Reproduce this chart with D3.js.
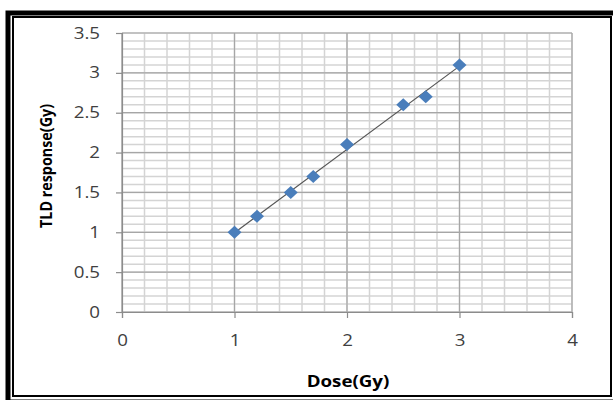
<!DOCTYPE html>
<html>
<head>
<meta charset="utf-8">
<script src="https://cdn.jsdelivr.net/npm/d3@7"></script>
<style>
  body { margin: 0; background: #fff; }
  svg { display: block; font-family: "Open Sans", sans-serif; }
</style>
</head>
<body>
<div id="chart"></div>
<script>
// values
const dose = [1, 1.2, 1.5, 1.7, 2, 2.5, 2.7, 3];
const response = [1, 1.2, 1.5, 1.7, 2.1, 2.6, 2.7, 3.1];
const xTicks = [0, 1, 2, 3, 4];
const yTicks = [0, 0.5, 1, 1.5, 2, 2.5, 3, 3.5];

const width = 613, height = 400;
const margin = { top: 33, right: 41, bottom: 88, left: 122 };

// the source picture is stretched sideways, so text gets widened a bit
const stretch = 1.17;

const svg = d3.select("#chart")
    .append("svg")
    .attr("width", width)
    .attr("height", height);

// double frame
svg.append("rect")
    .attr("x", 8).attr("y", 13)
    .attr("width", 608).attr("height", 389)
    .attr("fill", "none").attr("stroke", "#000").attr("stroke-width", 5);
svg.append("rect")
    .attr("x", 13).attr("y", 17)
    .attr("width", 598).attr("height", 379)
    .attr("fill", "none").attr("stroke", "#000").attr("stroke-width", 2);

const x = d3.scaleLinear().domain([0, 4]).range([margin.left, width - margin.right]);
const y = d3.scaleLinear().domain([0, 3.5]).range([height - margin.bottom, margin.top]);

const g = svg.append("g");

// minor grid
const minorX = d3.range(0, 4.001, 0.2);
const minorY = d3.range(0, 3.501, 0.1);
g.selectAll(".mx").data(minorX).join("line")
    .attr("x1", d => x(d)).attr("x2", d => x(d))
    .attr("y1", y(0)).attr("y2", y(3.5))
    .attr("stroke", "#d4d4d4").attr("stroke-width", 1.5);
g.selectAll(".my").data(minorY).join("line")
    .attr("x1", x(0)).attr("x2", x(4))
    .attr("y1", d => y(d)).attr("y2", d => y(d))
    .attr("stroke", "#d4d4d4").attr("stroke-width", 1.5);

// major grid
g.selectAll(".gx").data(xTicks).join("line")
    .attr("x1", d => x(d)).attr("x2", d => x(d))
    .attr("y1", y(0)).attr("y2", y(3.5))
    .attr("stroke", "#a6a6a6").attr("stroke-width", 1.2);
g.selectAll(".gy").data(yTicks).join("line")
    .attr("x1", x(0)).attr("x2", x(4))
    .attr("y1", d => y(d)).attr("y2", d => y(d))
    .attr("stroke", "#a6a6a6").attr("stroke-width", 1.2);

// axes
const xAxis = svg.append("g")
    .attr("transform", `translate(0,${y(0)})`)
    .call(d3.axisBottom(x).tickValues(xTicks).tickFormat(d3.format("d")).tickSize(6).tickPadding(17));
const yAxis = svg.append("g")
    .attr("transform", `translate(${x(0)},0)`)
    .call(d3.axisLeft(y).tickValues(yTicks).tickFormat(d => d).tickSize(6).tickPadding(16));

[xAxis, yAxis].forEach(a => {
    a.select(".domain").attr("stroke", "#8c8c8c").attr("stroke-width", 1.2);
    a.selectAll(".tick line").attr("stroke", "#8c8c8c").attr("stroke-width", 1.2);
    a.selectAll(".tick text").attr("fill", "#404040")
        .style("font-size", "16px").style("font-family", "'Open Sans', sans-serif")
        .each(function() {
            const w = this.getComputedTextLength();
            d3.select(this).attr("textLength", w * stretch).attr("lengthAdjust", "spacingAndGlyphs");
        });
});

// trendline (least squares fit)
const mx = d3.mean(dose), my = d3.mean(response);
const slope = d3.sum(dose, (d, i) => (d - mx) * (response[i] - my)) / d3.sum(dose, d => (d - mx) ** 2);
const icpt = my - slope * mx;
const xr = d3.extent(dose);
svg.append("line")
    .attr("x1", x(xr[0])).attr("y1", y(icpt + slope * xr[0]))
    .attr("x2", x(xr[1])).attr("y2", y(icpt + slope * xr[1]))
    .attr("stroke", "#555").attr("stroke-width", 1.2);

// diamond markers
const data = dose.map((d, i) => ({ x: d, y: response[i] }));
svg.selectAll(".pt").data(data).join("path")
    .attr("transform", d => `translate(${x(d.x)},${y(d.y)})`)
    .attr("d", "M0,-6.5L7,0L0,6.5L-7,0Z")
    .attr("fill", "#4a7ebb");

// axis titles
const xTitle = svg.append("text")
    .attr("x", 348).attr("y", 387)
    .attr("text-anchor", "middle")
    .style("font-size", "16px").style("font-weight", "bold")
    .attr("fill", "#000")
    .text("Dose(Gy)");
xTitle.attr("textLength", xTitle.node().getComputedTextLength() * stretch)
    .attr("lengthAdjust", "spacingAndGlyphs");

const yTitle = svg.append("text")
    .attr("transform", "translate(52,166) rotate(-90)")
    .attr("text-anchor", "middle")
    .style("font-size", "16px").style("font-weight", "bold")
    .attr("fill", "#000")
    .text("TLD response(Gy)");
yTitle.attr("textLength", 124).attr("lengthAdjust", "spacingAndGlyphs");
</script>
</body>
</html>
